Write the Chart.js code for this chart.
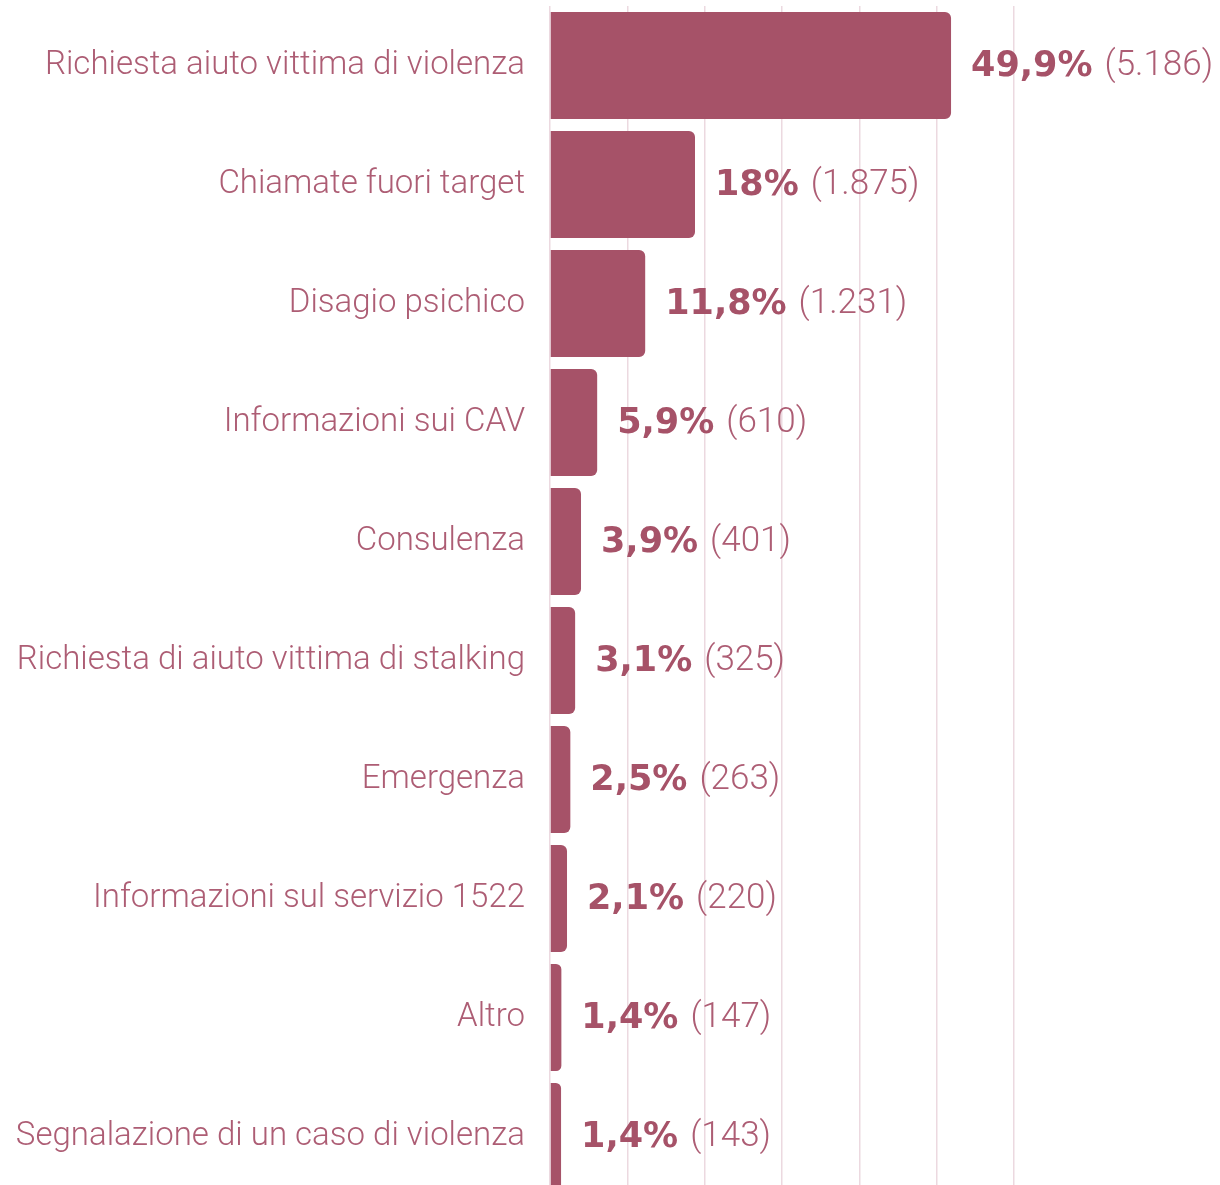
<!DOCTYPE html>
<html lang="it">
<head>
<meta charset="utf-8">
<title>Motivi delle chiamate al 1522</title>
<script src="https://cdn.jsdelivr.net/npm/chart.js@4.4.1/dist/chart.umd.min.js"></script>
<style>
    html, body { margin: 0; padding: 0; background: #fff; overflow: hidden; }
    #wrap { position: relative; width: 1220px; height: 1196px; }
</style>
</head>
<body>
<div id="wrap"><canvas id="motivi-chart"></canvas></div>
<script>
// categorie e valori
const categories = [
    'Richiesta aiuto vittima di violenza',
    'Chiamate fuori target',
    'Disagio psichico',
    'Informazioni sui CAV',
    'Consulenza',
    'Richiesta di aiuto vittima di stalking',
    'Emergenza',
    'Informazioni sul servizio 1522',
    'Altro',
    'Segnalazione di un caso di violenza'
];
const counts = [5186, 1875, 1231, 610, 401, 325, 263, 220, 147, 143];
const percents = [49.9, 18, 11.8, 5.9, 3.9, 3.1, 2.5, 2.1, 1.4, 1.4];
const xTicks = [0, 1000, 2000, 3000, 4000, 5000, 6000];

const barColor = '#a65268';
const textColor = '#ad5d74';
const gridColor = '#ecd9e0';

function fmtPercent(v) {
    return String(v).replace('.', ',') + '%';
}
function fmtCount(v) {
    return '(' + String(v).replace(/\B(?=(\d{3})+(?!\d))/g, '.') + ')';
}

// etichette a destra delle barre: percentuale in grassetto + conteggio
const valueLabels = {
    id: 'valueLabels',
    afterDatasetsDraw(chart) {
        const ctx = chart.ctx;
        const meta = chart.getDatasetMeta(0);
        ctx.save();
        ctx.textBaseline = 'middle';
        ctx.textAlign = 'left';
        meta.data.forEach((bar, i) => {
            let x = bar.x + 20;
            const y = bar.y + 1;
            const pct = fmtPercent(percents[i]);
            ctx.font = 'bold 35px "DejaVu Sans", sans-serif';
            ctx.fillStyle = barColor;
            ctx.fillText(pct, x, y);
            x += ctx.measureText(pct).width + 12;
            ctx.font = '300 35px Roboto, sans-serif';
            ctx.fillStyle = textColor;
            ctx.fillText(fmtCount(counts[i]), x, y);
        });
        ctx.restore();
    }
};

const ctx = document.getElementById('motivi-chart').getContext('2d');
new Chart(ctx, {
    type: 'bar',
    data: {
        labels: categories,
        datasets: [{
            data: counts,
            backgroundColor: barColor,
            borderWidth: 0,
            borderRadius: 6,
            borderSkipped: 'start',
            barPercentage: 0.9,
            categoryPercentage: 1
        }]
    },
    options: {
        indexAxis: 'y',
        responsive: true,
        maintainAspectRatio: false,
        animation: false,
        layout: { padding: { top: 6, right: 206, bottom: 0, left: 0 } },
        scales: {
            x: {
                min: 0,
                max: 6000,
                afterBuildTicks: (axis) => { axis.ticks = xTicks.map(v => ({ value: v })); },
                grid: { color: gridColor, lineWidth: 1.5, drawTicks: false },
                border: { display: false },
                ticks: { display: false }
            },
            y: {
                afterFit: (axis) => {
                    axis.width = 550;
                    axis.paddingTop = 0;
                    axis.paddingBottom = 0;
                },
                grid: { display: false, drawTicks: false },
                border: { display: false },
                ticks: {
                    color: textColor,
                    padding: 25,
                    font: { family: 'Roboto, sans-serif', size: 33, weight: 300 }
                }
            }
        },
        plugins: {
            legend: { display: false },
            tooltip: { enabled: false }
        }
    },
    plugins: [valueLabels]
});
</script>
</body>
</html>
